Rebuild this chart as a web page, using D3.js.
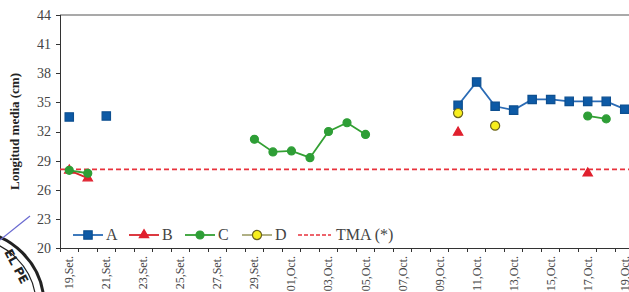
<!DOCTYPE html>
<html>
<head>
<meta charset="utf-8">
<title>Longitud media</title>
<script src="https://cdn.jsdelivr.net/npm/d3@7"></script>
<style>
body { margin: 0; background: #fff; }
svg { display: block; }
.axis path, .axis line { fill: none; stroke: #333; shape-rendering: crispEdges; }
.axis text { font-family: "Liberation Serif", serif; fill: #444; }
.legend text { font-family: "Liberation Serif", serif; font-size: 16px; fill: #444; }
</style>
</head>
<body>
<script>
// dias de muestreo, 19 set - 19 oct
var days = ["19,Set.","20,Set.","21,Set.","22,Set.","23,Set.","24,Set.","25,Set.","26,Set.",
  "27,Set.","28,Set.","29,Set.","30,Set.","01,Oct.","02,Oct.","03,Oct.","04,Oct.","05,Oct.",
  "06,Oct.","07,Oct.","08,Oct.","09,Oct.","10,Oct.","11,Oct.","12,Oct.","13,Oct.","14,Oct.",
  "15,Oct.","16,Oct.","17,Oct.","18,Oct.","19,Oct."];
var N = null;
var serieA = [33.5,N,33.6,N,N,N,N,N,N,N,N,N,N,N,N,N,N,N,N,N,N,34.7,37.1,34.6,34.2,35.3,35.3,35.1,35.1,35.1,34.3];
var serieB = [28.0,27.2,N,N,N,N,N,N,N,N,N,N,N,N,N,N,N,N,N,N,N,31.9,N,N,N,N,N,N,27.7,N,N];
var serieC = [28.0,27.7,N,N,N,N,N,N,N,N,31.2,29.9,30.0,29.3,32.0,32.9,31.7,N,N,N,N,N,N,N,N,N,N,N,33.6,33.3,N];
var serieD = [N,N,N,N,N,N,N,N,N,N,N,N,N,N,N,N,N,N,N,N,N,33.9,N,32.6,N,N,N,N,N,N,N];
var tma = 28.1;
var yTicks = [20,23,26,29,32,35,38,41,44];

var w = 629, h = 292;
var svg = d3.select("body").append("svg").attr("width", w).attr("height", h);

var x = d3.scaleBand().domain(d3.range(days.length)).range([60, 634]);
var y = d3.scaleLinear().domain([20, 44]).range([248, 15]);
var cx = function(i) { return x(i) + x.bandwidth() / 2; };

// sello escaneado (abajo a la izquierda)
var stamp = svg.append("g").attr("fill", "none");
stamp.append("circle").attr("cx", -30).attr("cy", 305).attr("r", 74).attr("stroke", "#222").attr("stroke-width", 3);
stamp.append("circle").attr("cx", -30).attr("cy", 305).attr("r", 66).attr("stroke", "#222").attr("stroke-width", 1.2);
stamp.append("line").attr("x1", 0).attr("y1", 240).attr("x2", 30).attr("y2", 216).attr("stroke", "#6a6ad0").attr("stroke-width", 1.2);
stamp.append("text").attr("transform", "translate(4,252) rotate(62)")
  .attr("fill", "#222").style("font-family", "DejaVu Sans").style("font-weight", "bold").style("font-size", "12px")
  .text("EL PE");

// borde superior
svg.append("line").attr("x1", 60).attr("x2", w).attr("y1", y(44)).attr("y2", y(44))
  .attr("stroke", "#555").attr("stroke-width", 1.2);

// eje y
var yAxis = svg.append("g").attr("class", "axis").attr("transform", "translate(60,0)")
  .call(d3.axisLeft(y).tickValues(yTicks).tickSize(4).tickPadding(5));
yAxis.selectAll("text").style("font-size", "14px");

// eje x (marcas entre categorias)
var xAxis = svg.append("g").attr("class", "axis").attr("transform", "translate(0,248)");
xAxis.append("line").attr("x1", 60).attr("x2", w).attr("y1", 0).attr("y2", 0);
xAxis.selectAll(".tk").data(d3.range(days.length + 1)).enter().append("line")
  .attr("x1", function(i) { return 60 + i * x.step(); })
  .attr("x2", function(i) { return 60 + i * x.step(); })
  .attr("y1", 0).attr("y2", 4);
xAxis.selectAll(".lbl").data(days.filter(function(d, i) { return i % 2 === 0; })).enter().append("text")
  .attr("transform", function(d) { return "translate(" + (cx(days.indexOf(d)) + 4) + ",8) rotate(-90)"; })
  .attr("text-anchor", "end")
  .style("font-size", "12px")
  .text(function(d) { return d; });

svg.append("text")
  .attr("transform", "translate(19," + y(32) + ") rotate(-90)")
  .attr("text-anchor", "middle")
  .style("font-family", "Liberation Serif, serif").style("font-weight", "bold").style("font-size", "13px")
  .attr("fill", "#222")
  .text("Longitud media (cm)");

// TMA
svg.append("line").attr("x1", 60).attr("x2", w).attr("y1", y(tma)).attr("y2", y(tma))
  .attr("stroke", "#e8323c").attr("stroke-width", 1.6).attr("stroke-dasharray", "5,3");

var line = d3.line().defined(function(d) { return d !== null; })
  .x(function(d, i) { return cx(i); }).y(function(d) { return y(d); });

var series = [
  { name: "A", data: serieA, line: "#2a6bb5", fill: "#0d5aa6", stroke: "#0d4f90", shape: d3.symbolSquare, size: 70 },
  { name: "B", data: serieB, line: "#d8242c", fill: "#e0202e", stroke: "#e0202e", shape: d3.symbolTriangle, size: 38 },
  { name: "C", data: serieC, line: "#33a033", fill: "#2e9e36", stroke: "#2e9e36", shape: d3.symbolCircle, size: 50 },
  { name: "D", data: serieD, line: "#a8a878", fill: "#f7ee1c", stroke: "#6b6420", shape: d3.symbolCircle, size: 65 }
];

series.forEach(function(s) {
  svg.append("path").attr("d", line(s.data))
    .attr("fill", "none").attr("stroke", s.line).attr("stroke-width", 1.8);
  svg.append("g").selectAll("path")
    .data(s.data.map(function(v, i) { return { v: v, i: i }; }).filter(function(d) { return d.v !== null; }))
    .enter().append("path")
    .attr("d", d3.symbol().type(s.shape).size(s.size))
    .attr("transform", function(d) { return "translate(" + cx(d.i) + "," + y(d.v) + ")"; })
    .attr("fill", s.fill).attr("stroke", s.stroke).attr("stroke-width", 1.2);
});

// leyenda
var legend = svg.append("g").attr("class", "legend").attr("transform", "translate(0,235)");
var lx = [73, 129, 185, 242];
series.forEach(function(s, k) {
  var g = legend.append("g").attr("transform", "translate(" + lx[k] + ",0)");
  g.append("line").attr("x1", 0).attr("x2", 30).attr("y1", 0).attr("y2", 0)
    .attr("stroke", s.line).attr("stroke-width", 1.8);
  g.append("path").attr("d", d3.symbol().type(s.shape).size(s.size)).attr("transform", "translate(15,0)")
    .attr("fill", s.fill).attr("stroke", s.stroke).attr("stroke-width", 1.2);
  g.append("text").attr("x", 33).attr("y", 5).text(s.name);
});
var gt = legend.append("g").attr("transform", "translate(298,0)");
gt.append("line").attr("x1", 0).attr("x2", 33).attr("y1", 0).attr("y2", 0)
  .attr("stroke", "#e8323c").attr("stroke-width", 1.6).attr("stroke-dasharray", "4,2");
gt.append("text").attr("x", 38).attr("y", 5).text("TMA (*)");
</script>
</body>
</html>
